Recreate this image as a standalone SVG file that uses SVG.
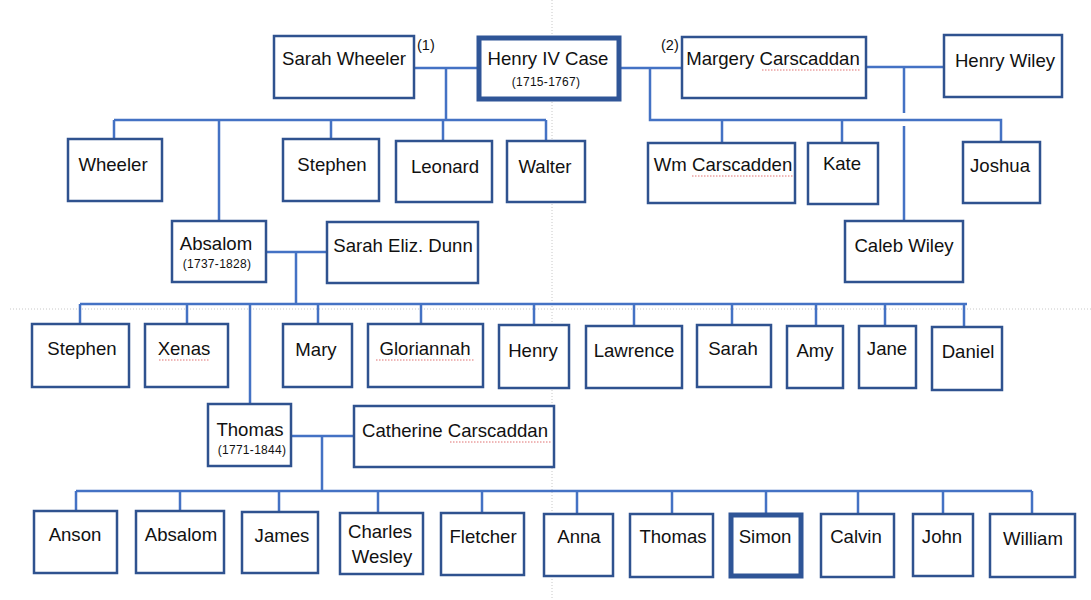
<svg xmlns="http://www.w3.org/2000/svg" width="1091" height="600" viewBox="0 0 1091 600">
<style>
.box{fill:#fff;stroke:#2F528F;stroke-width:2.5}
.key{fill:#fff;stroke:#2F5597;stroke-width:5}
.t{font-family:"Liberation Sans",Arial,sans-serif;font-size:18.6px;fill:#111;text-anchor:middle}
.d{font-family:"Liberation Sans",Arial,sans-serif;font-size:12px;fill:#111;text-anchor:middle;letter-spacing:0.3px}
.n{font-family:"Liberation Sans",Arial,sans-serif;font-size:14.5px;fill:#111}
.c{fill:none;stroke:#4472C4;stroke-width:2.5}
.g{stroke:#c8c8c8;stroke-width:1;stroke-dasharray:1 2}
.sp{fill:none;stroke:#e07070;stroke-width:1;stroke-dasharray:1.5 1.5}
</style>
<rect width="1091" height="600" fill="#fff"/>
<g id="guides">
<line class="g" x1="552" y1="0" x2="552" y2="600"/>
<line class="g" x1="10" y1="309" x2="1091" y2="309"/>
</g>
<g id="connectors">
<path class="c" d="M414 68H477M446 68V120M114 120H546M114 120V139M219 120V221M331 120V139M443 120V141M546 120V141"/>
<path class="c" d="M620 68H682M650 68V120H1001V142M722 120V143M842 120V143"/>
<path class="c" d="M866 67H944M904 67V113M904 126V221"/>
<path class="c" d="M266 252H327M296 252V304M80 304H967M80 304V324M187 304V324M250 304V404M318 304V324M421 304V324M534 304V325M634 304V326M732 304V325M816 304V326M885 304V326M964 304V327"/>
<path class="c" d="M291 436H354M322 436V491M76 491H1032M76 491V511M180 491V511M279 491V512M378 491V513M482 491V513M577 491V514M672 491V514M766 491V513M858 491V514M943 491V514M1032 491V514"/>
</g>
<g id="sarah-wheeler"><rect class="box" x="274" y="36" width="140" height="62"/><text class="t" x="344" y="65">Sarah Wheeler</text></g>
<text class="n" x="417" y="50">(1)</text>
<g id="henry-iv-case"><rect class="key" x="479" y="38" width="140" height="61"/><text class="t" x="548" y="65">Henry IV Case</text><text class="d" x="546" y="86">(1715-1767)</text></g>
<text class="n" x="661" y="50">(2)</text>
<g id="margery-carscaddan"><rect class="box" x="682" y="37" width="184" height="61"/><text class="t" x="773" y="65">Margery Carscaddan</text><path class="sp" d="M762 70H860"/></g>
<g id="henry-wiley"><rect class="box" x="944" y="35" width="118" height="62"/><text class="t" x="1005" y="67">Henry Wiley</text></g>
<g id="wheeler"><rect class="box" x="68" y="139" width="94" height="62"/><text class="t" x="113" y="171">Wheeler</text></g>
<g id="stephen-1"><rect class="box" x="283" y="139" width="96" height="62"/><text class="t" x="332" y="171">Stephen</text></g>
<g id="leonard"><rect class="box" x="396" y="141" width="96" height="61"/><text class="t" x="445" y="173">Leonard</text></g>
<g id="walter"><rect class="box" x="507" y="141" width="78" height="61"/><text class="t" x="545" y="173">Walter</text></g>
<g id="wm-carscadden"><rect class="box" x="648" y="143" width="147" height="60"/><text class="t" x="723" y="171">Wm Carscadden</text><path class="sp" d="M692 176H793"/></g>
<g id="kate"><rect class="box" x="808" y="143" width="70" height="61"/><text class="t" x="842" y="170">Kate</text></g>
<g id="joshua"><rect class="box" x="963" y="142" width="77" height="61"/><text class="t" x="1000" y="172">Joshua</text></g>
<g id="caleb-wiley"><rect class="box" x="845" y="221" width="118" height="61"/><text class="t" x="904" y="252">Caleb Wiley</text></g>
<g id="absalom-1"><rect class="box" x="172" y="221" width="94" height="61"/><text class="t" x="216" y="250">Absalom</text><text class="d" x="217" y="268">(1737-1828)</text></g>
<g id="sarah-eliz-dunn"><rect class="box" x="327" y="222" width="151" height="61"/><text class="t" x="403" y="252">Sarah Eliz. Dunn</text></g>
<g id="stephen-2"><rect class="box" x="32" y="324" width="97" height="63"/><text class="t" x="82" y="355">Stephen</text></g>
<g id="xenas"><rect class="box" x="145" y="324" width="83" height="63"/><text class="t" x="184" y="355">Xenas</text><path class="sp" d="M159 360H210"/></g>
<g id="mary"><rect class="box" x="283" y="324" width="69" height="63"/><text class="t" x="316" y="356">Mary</text></g>
<g id="gloriannah"><rect class="box" x="368" y="324" width="115" height="63"/><text class="t" x="425" y="355">Gloriannah</text><path class="sp" d="M376 360H474"/></g>
<g id="henry"><rect class="box" x="499" y="325" width="70" height="63"/><text class="t" x="533" y="357">Henry</text></g>
<g id="lawrence"><rect class="box" x="586" y="326" width="96" height="62"/><text class="t" x="634" y="357">Lawrence</text></g>
<g id="sarah"><rect class="box" x="697" y="325" width="74" height="62"/><text class="t" x="733" y="355">Sarah</text></g>
<g id="amy"><rect class="box" x="787" y="326" width="56" height="62"/><text class="t" x="815" y="357">Amy</text></g>
<g id="jane"><rect class="box" x="859" y="326" width="57" height="62"/><text class="t" x="887" y="355">Jane</text></g>
<g id="daniel"><rect class="box" x="932" y="327" width="70" height="63"/><text class="t" x="968" y="358">Daniel</text></g>
<g id="thomas-1"><rect class="box" x="208" y="404" width="83" height="62"/><text class="t" x="250" y="436">Thomas</text><text class="d" x="252" y="454">(1771-1844)</text></g>
<g id="catherine-carscaddan"><rect class="box" x="354" y="406" width="200" height="61"/><text class="t" x="455" y="437">Catherine Carscaddan</text><path class="sp" d="M450 442H551"/></g>
<g id="anson"><rect class="box" x="34" y="511" width="83" height="62"/><text class="t" x="75" y="541">Anson</text></g>
<g id="absalom-2"><rect class="box" x="136" y="511" width="88" height="62"/><text class="t" x="181" y="541">Absalom</text></g>
<g id="james"><rect class="box" x="242" y="512" width="76" height="61"/><text class="t" x="282" y="542">James</text></g>
<g id="charles-wesley"><rect class="box" x="340" y="513" width="83" height="61"/><text class="t" x="380" y="538">Charles</text><text class="t" x="382" y="563">Wesley</text></g>
<g id="fletcher"><rect class="box" x="441" y="513" width="83" height="62"/><text class="t" x="483" y="543">Fletcher</text></g>
<g id="anna"><rect class="box" x="544" y="514" width="69" height="62"/><text class="t" x="579" y="543">Anna</text></g>
<g id="thomas-2"><rect class="box" x="630" y="514" width="83" height="63"/><text class="t" x="673" y="543">Thomas</text></g>
<g id="simon"><rect class="key" x="731" y="515" width="70" height="61"/><text class="t" x="765" y="543">Simon</text></g>
<g id="calvin"><rect class="box" x="821" y="514" width="73" height="63"/><text class="t" x="856" y="543">Calvin</text></g>
<g id="john"><rect class="box" x="913" y="514" width="60" height="62"/><text class="t" x="942" y="543">John</text></g>
<g id="william"><rect class="box" x="990" y="514" width="85" height="63"/><text class="t" x="1033" y="545">William</text></g>
</svg>
